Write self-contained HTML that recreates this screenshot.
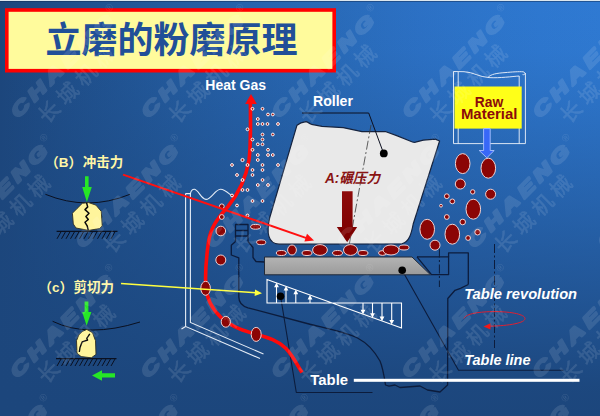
<!DOCTYPE html>
<html lang="zh">
<head>
<meta charset="utf-8">
<title>立磨的粉磨原理</title>
<style>
html,body{margin:0;padding:0;background:#1c467c;}
body{width:600px;height:416px;overflow:hidden;}
svg{display:block;}
.lat{font-family:"Liberation Sans","Noto Sans CJK SC",sans-serif;font-weight:bold;}
.wm1{font-family:"Liberation Sans",sans-serif;font-weight:bold;font-style:italic;font-size:18px;}
.wm2{font-family:"Liberation Sans","Noto Sans CJK SC",sans-serif;font-weight:400;font-size:21px;}
.wm3{font-family:"Liberation Sans",sans-serif;font-size:10px;}
</style>
</head>
<body>
<svg width="600" height="416" viewBox="0 0 600 416">
<defs>
<linearGradient id="bgh" x1="0" y1="0" x2="1" y2="0">
<stop offset="0.0" stop-color="#1c467c"/>
<stop offset="0.1" stop-color="#1f4e89"/>
<stop offset="0.2" stop-color="#215595"/>
<stop offset="0.3" stop-color="#245ca0"/>
<stop offset="0.4" stop-color="#2662ab"/>
<stop offset="0.5" stop-color="#2868b4"/>
<stop offset="0.6" stop-color="#2a6dbd"/>
<stop offset="0.7" stop-color="#2c71c5"/>
<stop offset="0.8" stop-color="#2d75cb"/>
<stop offset="0.9" stop-color="#2e78d0"/>
<stop offset="1.0" stop-color="#2f7ad3"/>
</linearGradient>
<linearGradient id="bgv" x1="0" y1="0" x2="0" y2="1">
<stop offset="0" stop-color="#1c467c" stop-opacity="0"/>
<stop offset="0.125" stop-color="#1c467c" stop-opacity="0.04"/>
<stop offset="0.27" stop-color="#1c467c" stop-opacity="0.19"/>
<stop offset="0.57" stop-color="#1c467c" stop-opacity="0.54"/>
<stop offset="0.79" stop-color="#1c467c" stop-opacity="0.8"/>
<stop offset="0.93" stop-color="#1c467c" stop-opacity="0.97"/>
<stop offset="1" stop-color="#1c467c" stop-opacity="1"/>
</linearGradient>
<linearGradient id="plate" x1="0" y1="0" x2="0" y2="1">
<stop offset="0" stop-color="#b4b4b4"/><stop offset="1" stop-color="#9a9a9a"/>
</linearGradient>
<linearGradient id="bigarrow" x1="0" y1="0" x2="0" y2="1">
<stop offset="0" stop-color="#8e0a0a"/><stop offset="1" stop-color="#7a0000"/>
</linearGradient>
</defs>
<rect width="600" height="416" fill="url(#bgh)"/>
<rect width="600" height="416" fill="url(#bgv)"/>

<rect x="0" y="0" width="600" height="1" fill="#dbe6ee"/>
<rect x="0" y="1" width="600" height="1" fill="#10284e" fill-opacity="0.45"/>
<rect x="6.8" y="10" width="327.4" height="60.7" fill="#fffb9c" stroke="#ff0000" stroke-width="3.6"/>
<text class="lat" x="171.6" y="53.3" text-anchor="middle" font-size="36" fill="#214f98">立磨的粉磨原理</text>
<!-- ===== housing (thin white lines) ===== -->
<g id="housing" fill="none" stroke="#eef3fb" stroke-width="1.1" stroke-opacity="0.95">
<path d="M185.6 193.5 L185.6 326.5 L260 358.5"/>
<path d="M190.4 193.5 L190.4 322.5 L263.5 354"/>
<path d="M185.6 326.5 L181.5 329"/>
<path d="M185.6 193.6 H190.4 C191 190.5 193 189.2 194.6 189.3 C198.5 190 201 199 206 199.4 C211 199.6 215 189.6 220.5 189.3 C225 189.2 229 194 233 196.8"/>
</g>

<!-- ===== dark structure lines ===== -->
<g id="structure" fill="none" stroke="#0c1c3c" stroke-width="1.3" stroke-linejoin="round">
<!-- ladder box -->
<path d="M235.5 241.5 L235.5 224.5 L248 224.5 L248 241.5"/>
<path d="M235.5 230.5 H248 M235.5 236 H248"/>
<!-- body left -->
<path d="M235.5 241.5 L231.3 245.3 L231.3 255 L238.8 257.8 L238.8 297 C238.8 303 242 306 248 307.8 L309 324 C325 328 345 332 357.5 338 C368 343.5 375 352 380 361 C383 368 384.3 377 385.5 385 L389 386.2 L395 385 L400 387.5 L420 386 L427.5 390 L440 392 L447.6 385 L447.8 298.5 L455 290.3 L460.5 288.3 L468.3 284.5"/>
<path d="M248 241.5 L253 247.5 L253 257.5 L256 261.5 L264.5 262"/>
<!-- leader from table dot -->
<path d="M280.5 296 L296.3 392.5 H372.5" stroke-width="1.1"/>
<!-- dam ring -->
<path d="M417 256.8 H448.6 V252.8 H468.3 V284.5"/>
<path d="M417 256.8 L431.5 274.6 H448.6 V256.8"/>
<!-- leader from plate dot to Table line -->
<path d="M402 270 L458.5 370.2 H563.5" stroke-width="1.1"/>
<!-- lower left short line -->
<path d="M300 368 H340" stroke-width="1" stroke-opacity="0"/>
</g>
<!-- dash-dot centre lines -->
<g fill="none" stroke="#0c1c3c" stroke-width="1" stroke-dasharray="9 2.5 2 2.5">
<path d="M439.4 248.5 V287"/>
<path d="M494.5 244 V348"/>
</g>

<!-- ===== table plate ===== -->
<path d="M264.5 257 H412 L430.5 274.8 H264.5 Z" fill="url(#plate)" stroke="#222a38" stroke-width="1"/>

<!-- ===== roller ===== -->
<path d="M297 125.2 C299 123.5 303 122 306 121.6 C308.5 122.3 309.5 123.6 311.5 124.3 L322 126.3 L343.3 127.7 L362 131.6 L386 131.7 L396.7 135.6 L410 141 C412 142 413.5 142.6 415.5 142.2 L423.3 140.2 L435.3 139.1 L439.6 141 L413.2 224 C411.5 233 409.5 241.5 402 243.8 L279 244.2 C267.5 243.5 266.5 232 269.6 218 Z" fill="#e9e9e9" stroke="#15233f" stroke-width="1.2" stroke-linejoin="round"/>

<!-- roller centre dash-dot line -->
<path d="M371 125 L351.5 232 L349 246" fill="none" stroke="#3a3a3a" stroke-width="0.8" stroke-dasharray="9 2.5 2 2.5"/>
<!-- roller leader -->
<path d="M302 113 H368.7 L383.6 153.3" fill="none" stroke="#0c1020" stroke-width="1"/>
<circle cx="383.8" cy="153.4" r="3.9" fill="#000"/>

<!-- ===== force diagram (white) ===== -->
<g id="force" fill="none" stroke="#ffffff" stroke-width="1.1">
<path d="M267 279.5 V303 H401.5 V328 Z"/>
<path d="M276.5 303 V286 M286 303 V289.5 M295.8 303 V292.5 M310 303 V297.5"/>
<path d="M363 303 V311 M372.5 303 V314.5 M382 303 V318 M391.7 303 V321.5"/>
</g>
<g fill="#ffffff">
<path d="M276.5 282.6 l2.4 4.6 h-4.8z M286 286 l2.4 4.6 h-4.8z M295.8 289.6 l2.4 4.6 h-4.8z M310 294.8 l2.4 4.6 h-4.8z"/>
<path d="M363 314.4 l2.4 -4.6 h-4.8z M372.5 317.8 l2.4 -4.6 h-4.8z M382 321.2 l2.4 -4.6 h-4.8z M391.7 324.5 l2.4 -4.6 h-4.8z"/>
</g>
<circle cx="280.5" cy="296.2" r="3.8" fill="#000"/>
<circle cx="402.2" cy="270.2" r="3.8" fill="#000"/>

<!-- ===== red gas flow curve ===== -->
<path d="M250.4 102 C250.5 125 251 146 249 160 C246 178 239 193 228 206.5 C217 219 210.5 228 208.5 242 C206.5 256 205 272 205.8 286 C206.5 298 211 308 221 317.5 C232 327.5 246 331.5 257 334.5 C268 337.5 278 340.5 286 348.5 C293 356 297 364.5 302 372.5" fill="none" stroke="#ff0a0a" stroke-width="3.6" stroke-linecap="butt"/>
<path d="M251 94 L256.8 104 H245.2 Z" fill="#ff0a0a"/>

<!-- ===== small particles ===== -->
<g id="dust" fill="#a01818" stroke="#ffffff" stroke-width="1">
<circle cx="252.5" cy="108.8" r="1.4"/><circle cx="262.5" cy="108.8" r="1.4"/>
<circle cx="268" cy="114.5" r="1.4"/><circle cx="272.8" cy="114.5" r="1.4"/>
<circle cx="257.8" cy="119" r="1.4"/><circle cx="257.8" cy="124" r="1.4"/>
<circle cx="262.5" cy="124" r="1.4"/><circle cx="267.5" cy="124" r="1.4"/><circle cx="278" cy="124" r="1.4"/>
<circle cx="247.5" cy="129.3" r="1.4"/><circle cx="262.5" cy="134.5" r="1.4"/><circle cx="272.8" cy="134.5" r="1.4"/>
<circle cx="252.5" cy="139.5" r="1.4"/><circle cx="262.5" cy="139.5" r="1.4"/>
<circle cx="257.8" cy="144.3" r="1.4"/><circle cx="262.5" cy="144.3" r="1.4"/>
<circle cx="252.5" cy="149.8" r="1.4"/><circle cx="268" cy="149.8" r="1.4"/>
<circle cx="257.8" cy="155" r="1.4"/><circle cx="268" cy="155" r="1.4"/><circle cx="272.8" cy="155" r="1.4"/>
<circle cx="242.5" cy="160" r="1.6"/><circle cx="257.8" cy="160" r="1.4"/>
<circle cx="232" cy="165" r="1.4"/><circle cx="247.5" cy="165" r="1.4"/><circle cx="262.5" cy="165" r="1.4"/><circle cx="278" cy="165" r="1.4"/>
<circle cx="252.5" cy="170" r="1.4"/><circle cx="262.5" cy="170" r="1.4"/>
<circle cx="237" cy="175" r="1.4"/><circle cx="252.5" cy="175" r="1.4"/>
<circle cx="242.5" cy="180" r="1.4"/><circle cx="262.5" cy="180" r="1.4"/>
<circle cx="257.8" cy="185" r="1.4"/><circle cx="268" cy="185" r="1.4"/>
<circle cx="242.5" cy="190" r="1.4"/><circle cx="247.5" cy="190" r="1.4"/>
<circle cx="232" cy="195.5" r="1.4"/>
<circle cx="252.5" cy="201" r="1.4"/><circle cx="262.5" cy="201" r="1.4"/>
<circle cx="237" cy="205.5" r="1.4"/><circle cx="247.5" cy="215.5" r="1.4"/>
</g>

<!-- ===== material ellipses ===== -->
<g id="material" fill="#8b0505" stroke="#f0d2d2" stroke-width="1">
<!-- along the flow -->
<circle cx="221.8" cy="206.3" r="2.4"/>
<circle cx="221.8" cy="217" r="2.4"/>
<circle cx="220.8" cy="231" r="4.8"/>
<circle cx="220.8" cy="260" r="5"/>
<ellipse cx="205.6" cy="288.3" rx="4.8" ry="7"/>
<ellipse cx="225.8" cy="321.8" rx="4.6" ry="5.4"/>
<ellipse cx="256.2" cy="334.4" rx="5" ry="7"/>
<ellipse cx="255.6" cy="226.8" rx="5" ry="2.4"/>
<ellipse cx="261.2" cy="242.3" rx="4.6" ry="2.4"/>
<!-- bed -->
<ellipse cx="281.3" cy="253" rx="5" ry="2.5"/>
<ellipse cx="292" cy="250" rx="4.4" ry="5"/>
<ellipse cx="307" cy="253" rx="5" ry="2.5"/>
<ellipse cx="320" cy="250" rx="7.4" ry="5.4"/>
<ellipse cx="337.5" cy="253" rx="5" ry="2.5"/>
<ellipse cx="350.5" cy="250" rx="7" ry="5.4"/>
<ellipse cx="363" cy="253" rx="5" ry="2.5"/>
<ellipse cx="382.5" cy="253" rx="4" ry="2.4"/>
<ellipse cx="391" cy="250" rx="8" ry="5"/>
<ellipse cx="404" cy="247.5" rx="5" ry="2.5"/>
<!-- falling raw material -->
<ellipse cx="462.7" cy="163.6" rx="7.3" ry="10"/>
<ellipse cx="488.3" cy="168.2" rx="7.3" ry="10"/>
<circle cx="460.3" cy="184" r="5"/>
<circle cx="490.6" cy="194.2" r="5"/>
<circle cx="472.7" cy="191.9" r="2.2"/>
<circle cx="446.8" cy="196.2" r="2.4"/>
<circle cx="452.3" cy="201.4" r="2.4"/>
<circle cx="441" cy="205.7" r="1.4"/>
<ellipse cx="473.3" cy="209.2" rx="7.3" ry="10"/>
<circle cx="446.8" cy="217" r="2.4"/>
<circle cx="462.7" cy="222" r="2.8"/>
<ellipse cx="427.2" cy="229.3" rx="7.3" ry="10"/>
<ellipse cx="452.3" cy="234.2" rx="7.3" ry="10"/>
<circle cx="477.6" cy="232.2" r="2.8"/>
<circle cx="468.1" cy="238" r="2.4"/>
<circle cx="435" cy="245.2" r="5"/>
</g>

<!-- ===== thin force arrows ===== -->
<path d="M123 174.6 L308 238.6" fill="none" stroke="#ff1010" stroke-width="2"/>
<path d="M314 240.6 L304.4 241.6 L307 233.8 Z" fill="#ff1010"/>
<path d="M121 283.5 L256 292.8" fill="none" stroke="#ffff40" stroke-width="1.5"/>
<path d="M262 293.2 L254.6 296 L255 289.6 Z" fill="#ffff40"/>

<!-- ===== big pressure arrow ===== -->
<path d="M342 191.3 H352.6 V227 H357.2 L347.2 242.3 L336.8 227 H342 Z" fill="url(#bigarrow)"/>
<text class="lat" x="325" y="183" font-size="14" font-style="italic" fill="#8a1414" textLength="55" lengthAdjust="spacingAndGlyphs">A:碾压力</text>

<!-- ===== raw material hopper ===== -->
<g fill="none" stroke="#eef3fb" stroke-width="0.9">
<path d="M453.5 71.5 V143.6 H525.4 V73"/>
<path d="M458.2 72 V143.6 M519.2 76 V143.6"/>
<path d="M453.5 71.5 L464 71.7 C473 72 479 77 489 77.6 C500 78.2 512 76.5 519.2 76"/><path d="M488 77.5 C491 74 497 73.2 505 72.6 C512 72 519 71.4 523 71.8 C526 72.3 525.4 75.3 522.6 74.6"/>
</g>
<rect x="454.5" y="86.5" width="67.2" height="42.1" fill="#ffff18"/>
<text class="lat" x="489" y="106.8" text-anchor="middle" font-size="13.8" fill="#8b0a0a">Raw</text>
<text class="lat" x="489.2" y="118.6" text-anchor="middle" font-size="13.8" fill="#8b0a0a" textLength="56.6" lengthAdjust="spacingAndGlyphs">Material</text>
<path d="M483.6 128.6 H490.2 V150.5 H494.2 L486.8 157.8 L479.2 150.5 H483.6 Z" fill="#3868f8" stroke="#a9c2ff" stroke-width="0.9"/>

<!-- ===== left: (B) impact ===== -->
<text class="lat" x="45.3" y="166.5" font-size="13.5" fill="#fff6a6">（B）<tspan dx="0.6">冲击力</tspan></text>
<path d="M85 176.3 H88.6 V187 H91.8 L86.9 202 L82.2 187 H85 Z" fill="#26e626"/>
<path d="M45.4 194.3 Q87.5 211.6 130 194.3" fill="none" stroke="#0a1020" stroke-width="1"/>
<path d="M76.9 208.7 L82.3 203.3 L88.6 202.6 L95.9 205.1 L101.3 211.4 L102.2 225.9 L99.5 228.6 L88.6 230.4 L76 228 L73.3 224 L72.4 213.2 Z" fill="#fff59c" stroke="#2e2e22" stroke-width="0.9" stroke-linejoin="round"/>
<path d="M86.5 202.6 L87.7 206.9 L85 209.6 L89 213.2 L85.9 216.5 L88.3 219.5 L85 222.3 L87.2 225.9 L88.3 230.4" fill="none" stroke="#0a0a0a" stroke-width="1.5" stroke-linejoin="round"/>
<g stroke="#0a1020" stroke-width="1" fill="none">
<path d="M56.6 231.3 H117.5" stroke-width="1.2"/>
<path d="M61 231.8 l-4 7 M65.5 231.8 l-4 7 M70 231.8 l-4 7 M74.5 231.8 l-4 7 M79 231.8 l-4 7 M83.5 231.8 l-4 7 M88 231.8 l-4 7 M92.5 231.8 l-4 7 M97 231.8 l-4 7 M101.5 231.8 l-4 7 M106 231.8 l-4 7 M110.5 231.8 l-4 7 M115 231.8 l-4 7"/>
</g>

<!-- ===== left: (c) shear ===== -->
<text class="lat" x="38.4" y="292.2" font-size="13.5" fill="#fff6a6">（c）<tspan dx="0.6">剪切力</tspan></text>
<path d="M84.6 301.4 H88.4 V312 H91.4 L86.6 325.8 L82.2 312 H84.6 Z" fill="#26e626"/>
<path d="M52.6 321.3 Q88 338.4 140 322" fill="none" stroke="#0a1020" stroke-width="1"/>
<path d="M82.2 331.5 L86.8 329.4 L92.5 332.7 L95.5 340.7 L96 354.4 L91.4 357.8 L81.1 356.6 L77 353.2 L76.5 340.7 L78.8 335 Z" fill="#fff59c" stroke="#2e2e22" stroke-width="0.9" stroke-linejoin="round"/>
<path d="M89.8 333.8 L86.8 338.4 L87.6 340 L82.2 341.8 L80 347.5 L79.3 352" fill="none" stroke="#0a0a0a" stroke-width="1.4" stroke-linejoin="round"/>
<g stroke="#0a1020" stroke-width="1" fill="none">
<path d="M56 358.6 H116.5" stroke-width="1.2"/>
<path d="M61 359 l-4 7 M65.5 359 l-4 7 M70 359 l-4 7 M74.5 359 l-4 7 M79 359 l-4 7 M83.5 359 l-4 7 M88 359 l-4 7 M92.5 359 l-4 7 M97 359 l-4 7 M101.5 359 l-4 7 M106 359 l-4 7 M110.5 359 l-4 7 M115 359 l-4 7"/>
</g>
<path d="M115 373.3 V377.6 H102 V380.7 L92 375.4 L102 370.2 V373.3 Z" fill="#26e626"/>

<!-- ===== labels ===== -->
<g class="lat" fill="#ffffff">
<text x="205.3" y="90" font-size="14">Heat Gas</text>
<text x="313" y="105.5" font-size="14.1">Roller</text>
<text x="310.3" y="385.2" font-size="14.9">Table</text>
<text x="464.2" y="299.3" font-size="14.7" font-style="italic">Table revolution</text>
<text x="464.2" y="365.1" font-size="14.5" font-style="italic">Table line</text>
</g>
<rect x="353.8" y="378.8" width="225.7" height="3" fill="#ffffff"/>

<!-- revolution arrow -->
<path d="M464 318.4 C466 313.5 480 311.6 495 311.6 C512 311.6 525 314.6 525 318.6 C525 322.8 510 325.8 489 326.2" fill="none" stroke="#e02030" stroke-width="1"/>
<path d="M483.5 326.4 L490.5 323.2 V329.6 Z" fill="#f01818"/>

<g id="watermark" fill="#ffffff" opacity="0.11">
<g transform="translate(-108.3 105.4) rotate(-45)"><text class="wm1" transform="scale(1.46 1)" x="-8.5" y="6.5" letter-spacing="3.1" stroke="#ffffff" stroke-width="2.8" vector-effect="non-scaling-stroke" stroke-linejoin="round">CHAENG</text><text class="wm3" x="127" y="-4.2">®</text><text class="wm2" x="3.9" y="31.2" letter-spacing="5.1" stroke="#ffffff" stroke-width="0.5">长城机械</text></g>
<g transform="translate(22.2 105.4) rotate(-45)"><text class="wm1" transform="scale(1.46 1)" x="-8.5" y="6.5" letter-spacing="3.1" stroke="#ffffff" stroke-width="2.8" vector-effect="non-scaling-stroke" stroke-linejoin="round">CHAENG</text><text class="wm3" x="127" y="-4.2">®</text><text class="wm2" x="3.9" y="31.2" letter-spacing="5.1" stroke="#ffffff" stroke-width="0.5">长城机械</text></g>
<g transform="translate(152.7 105.4) rotate(-45)"><text class="wm1" transform="scale(1.46 1)" x="-8.5" y="6.5" letter-spacing="3.1" stroke="#ffffff" stroke-width="2.8" vector-effect="non-scaling-stroke" stroke-linejoin="round">CHAENG</text><text class="wm3" x="127" y="-4.2">®</text><text class="wm2" x="3.9" y="31.2" letter-spacing="5.1" stroke="#ffffff" stroke-width="0.5">长城机械</text></g>
<g transform="translate(283.2 105.4) rotate(-45)"><text class="wm1" transform="scale(1.46 1)" x="-8.5" y="6.5" letter-spacing="3.1" stroke="#ffffff" stroke-width="2.8" vector-effect="non-scaling-stroke" stroke-linejoin="round">CHAENG</text><text class="wm3" x="127" y="-4.2">®</text><text class="wm2" x="3.9" y="31.2" letter-spacing="5.1" stroke="#ffffff" stroke-width="0.5">长城机械</text></g>
<g transform="translate(413.7 105.4) rotate(-45)"><text class="wm1" transform="scale(1.46 1)" x="-8.5" y="6.5" letter-spacing="3.1" stroke="#ffffff" stroke-width="2.8" vector-effect="non-scaling-stroke" stroke-linejoin="round">CHAENG</text><text class="wm3" x="127" y="-4.2">®</text><text class="wm2" x="3.9" y="31.2" letter-spacing="5.1" stroke="#ffffff" stroke-width="0.5">长城机械</text></g>
<g transform="translate(544.2 105.4) rotate(-45)"><text class="wm1" transform="scale(1.46 1)" x="-8.5" y="6.5" letter-spacing="3.1" stroke="#ffffff" stroke-width="2.8" vector-effect="non-scaling-stroke" stroke-linejoin="round">CHAENG</text><text class="wm3" x="127" y="-4.2">®</text><text class="wm2" x="3.9" y="31.2" letter-spacing="5.1" stroke="#ffffff" stroke-width="0.5">长城机械</text></g>
<g transform="translate(-43.3 235.4) rotate(-45)"><text class="wm1" transform="scale(1.46 1)" x="-8.5" y="6.5" letter-spacing="3.1" stroke="#ffffff" stroke-width="2.8" vector-effect="non-scaling-stroke" stroke-linejoin="round">CHAENG</text><text class="wm3" x="127" y="-4.2">®</text><text class="wm2" x="3.9" y="31.2" letter-spacing="5.1" stroke="#ffffff" stroke-width="0.5">长城机械</text></g>
<g transform="translate(87.2 235.4) rotate(-45)"><text class="wm1" transform="scale(1.46 1)" x="-8.5" y="6.5" letter-spacing="3.1" stroke="#ffffff" stroke-width="2.8" vector-effect="non-scaling-stroke" stroke-linejoin="round">CHAENG</text><text class="wm3" x="127" y="-4.2">®</text><text class="wm2" x="3.9" y="31.2" letter-spacing="5.1" stroke="#ffffff" stroke-width="0.5">长城机械</text></g>
<g transform="translate(217.7 235.4) rotate(-45)"><text class="wm1" transform="scale(1.46 1)" x="-8.5" y="6.5" letter-spacing="3.1" stroke="#ffffff" stroke-width="2.8" vector-effect="non-scaling-stroke" stroke-linejoin="round">CHAENG</text><text class="wm3" x="127" y="-4.2">®</text><text class="wm2" x="3.9" y="31.2" letter-spacing="5.1" stroke="#ffffff" stroke-width="0.5">长城机械</text></g>
<g transform="translate(348.2 235.4) rotate(-45)"><text class="wm1" transform="scale(1.46 1)" x="-8.5" y="6.5" letter-spacing="3.1" stroke="#ffffff" stroke-width="2.8" vector-effect="non-scaling-stroke" stroke-linejoin="round">CHAENG</text><text class="wm3" x="127" y="-4.2">®</text><text class="wm2" x="3.9" y="31.2" letter-spacing="5.1" stroke="#ffffff" stroke-width="0.5">长城机械</text></g>
<g transform="translate(478.7 235.4) rotate(-45)"><text class="wm1" transform="scale(1.46 1)" x="-8.5" y="6.5" letter-spacing="3.1" stroke="#ffffff" stroke-width="2.8" vector-effect="non-scaling-stroke" stroke-linejoin="round">CHAENG</text><text class="wm3" x="127" y="-4.2">®</text><text class="wm2" x="3.9" y="31.2" letter-spacing="5.1" stroke="#ffffff" stroke-width="0.5">长城机械</text></g>
<g transform="translate(609.2 235.4) rotate(-45)"><text class="wm1" transform="scale(1.46 1)" x="-8.5" y="6.5" letter-spacing="3.1" stroke="#ffffff" stroke-width="2.8" vector-effect="non-scaling-stroke" stroke-linejoin="round">CHAENG</text><text class="wm3" x="127" y="-4.2">®</text><text class="wm2" x="3.9" y="31.2" letter-spacing="5.1" stroke="#ffffff" stroke-width="0.5">长城机械</text></g>
<g transform="translate(-108.8 365.4) rotate(-45)"><text class="wm1" transform="scale(1.46 1)" x="-8.5" y="6.5" letter-spacing="3.1" stroke="#ffffff" stroke-width="2.8" vector-effect="non-scaling-stroke" stroke-linejoin="round">CHAENG</text><text class="wm3" x="127" y="-4.2">®</text><text class="wm2" x="3.9" y="31.2" letter-spacing="5.1" stroke="#ffffff" stroke-width="0.5">长城机械</text></g>
<g transform="translate(21.7 365.4) rotate(-45)"><text class="wm1" transform="scale(1.46 1)" x="-8.5" y="6.5" letter-spacing="3.1" stroke="#ffffff" stroke-width="2.8" vector-effect="non-scaling-stroke" stroke-linejoin="round">CHAENG</text><text class="wm3" x="127" y="-4.2">®</text><text class="wm2" x="3.9" y="31.2" letter-spacing="5.1" stroke="#ffffff" stroke-width="0.5">长城机械</text></g>
<g transform="translate(152.2 365.4) rotate(-45)"><text class="wm1" transform="scale(1.46 1)" x="-8.5" y="6.5" letter-spacing="3.1" stroke="#ffffff" stroke-width="2.8" vector-effect="non-scaling-stroke" stroke-linejoin="round">CHAENG</text><text class="wm3" x="127" y="-4.2">®</text><text class="wm2" x="3.9" y="31.2" letter-spacing="5.1" stroke="#ffffff" stroke-width="0.5">长城机械</text></g>
<g transform="translate(282.7 365.4) rotate(-45)"><text class="wm1" transform="scale(1.46 1)" x="-8.5" y="6.5" letter-spacing="3.1" stroke="#ffffff" stroke-width="2.8" vector-effect="non-scaling-stroke" stroke-linejoin="round">CHAENG</text><text class="wm3" x="127" y="-4.2">®</text><text class="wm2" x="3.9" y="31.2" letter-spacing="5.1" stroke="#ffffff" stroke-width="0.5">长城机械</text></g>
<g transform="translate(413.2 365.4) rotate(-45)"><text class="wm1" transform="scale(1.46 1)" x="-8.5" y="6.5" letter-spacing="3.1" stroke="#ffffff" stroke-width="2.8" vector-effect="non-scaling-stroke" stroke-linejoin="round">CHAENG</text><text class="wm3" x="127" y="-4.2">®</text><text class="wm2" x="3.9" y="31.2" letter-spacing="5.1" stroke="#ffffff" stroke-width="0.5">长城机械</text></g>
<g transform="translate(543.7 365.4) rotate(-45)"><text class="wm1" transform="scale(1.46 1)" x="-8.5" y="6.5" letter-spacing="3.1" stroke="#ffffff" stroke-width="2.8" vector-effect="non-scaling-stroke" stroke-linejoin="round">CHAENG</text><text class="wm3" x="127" y="-4.2">®</text><text class="wm2" x="3.9" y="31.2" letter-spacing="5.1" stroke="#ffffff" stroke-width="0.5">长城机械</text></g>
<g transform="translate(-43.8 495.4) rotate(-45)"><text class="wm1" transform="scale(1.46 1)" x="-8.5" y="6.5" letter-spacing="3.1" stroke="#ffffff" stroke-width="2.8" vector-effect="non-scaling-stroke" stroke-linejoin="round">CHAENG</text><text class="wm3" x="127" y="-4.2">®</text><text class="wm2" x="3.9" y="31.2" letter-spacing="5.1" stroke="#ffffff" stroke-width="0.5">长城机械</text></g>
<g transform="translate(86.7 495.4) rotate(-45)"><text class="wm1" transform="scale(1.46 1)" x="-8.5" y="6.5" letter-spacing="3.1" stroke="#ffffff" stroke-width="2.8" vector-effect="non-scaling-stroke" stroke-linejoin="round">CHAENG</text><text class="wm3" x="127" y="-4.2">®</text><text class="wm2" x="3.9" y="31.2" letter-spacing="5.1" stroke="#ffffff" stroke-width="0.5">长城机械</text></g>
<g transform="translate(217.2 495.4) rotate(-45)"><text class="wm1" transform="scale(1.46 1)" x="-8.5" y="6.5" letter-spacing="3.1" stroke="#ffffff" stroke-width="2.8" vector-effect="non-scaling-stroke" stroke-linejoin="round">CHAENG</text><text class="wm3" x="127" y="-4.2">®</text><text class="wm2" x="3.9" y="31.2" letter-spacing="5.1" stroke="#ffffff" stroke-width="0.5">长城机械</text></g>
<g transform="translate(347.7 495.4) rotate(-45)"><text class="wm1" transform="scale(1.46 1)" x="-8.5" y="6.5" letter-spacing="3.1" stroke="#ffffff" stroke-width="2.8" vector-effect="non-scaling-stroke" stroke-linejoin="round">CHAENG</text><text class="wm3" x="127" y="-4.2">®</text><text class="wm2" x="3.9" y="31.2" letter-spacing="5.1" stroke="#ffffff" stroke-width="0.5">长城机械</text></g>
<g transform="translate(478.2 495.4) rotate(-45)"><text class="wm1" transform="scale(1.46 1)" x="-8.5" y="6.5" letter-spacing="3.1" stroke="#ffffff" stroke-width="2.8" vector-effect="non-scaling-stroke" stroke-linejoin="round">CHAENG</text><text class="wm3" x="127" y="-4.2">®</text><text class="wm2" x="3.9" y="31.2" letter-spacing="5.1" stroke="#ffffff" stroke-width="0.5">长城机械</text></g>
<g transform="translate(608.7 495.4) rotate(-45)"><text class="wm1" transform="scale(1.46 1)" x="-8.5" y="6.5" letter-spacing="3.1" stroke="#ffffff" stroke-width="2.8" vector-effect="non-scaling-stroke" stroke-linejoin="round">CHAENG</text><text class="wm3" x="127" y="-4.2">®</text><text class="wm2" x="3.9" y="31.2" letter-spacing="5.1" stroke="#ffffff" stroke-width="0.5">长城机械</text></g>
</g>
</svg>
</body>
</html>
